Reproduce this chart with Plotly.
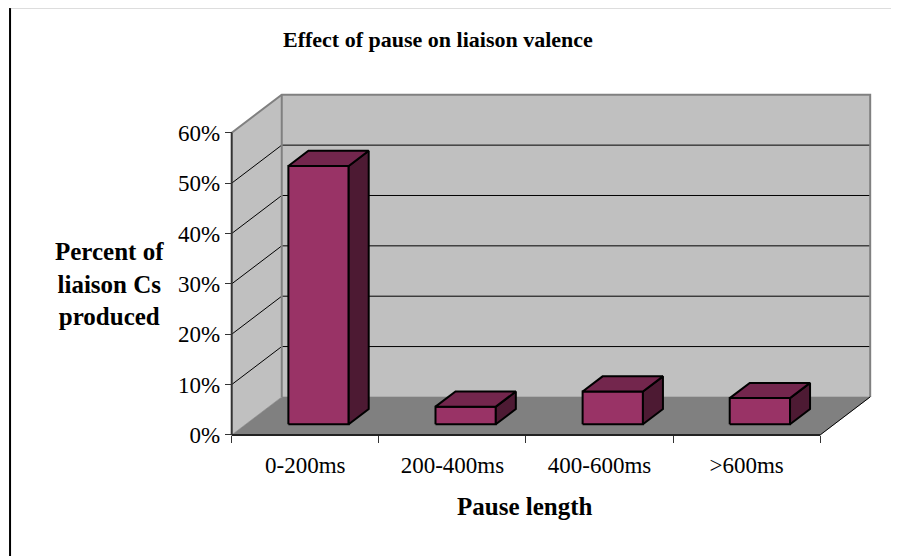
import plotly.graph_objects as go

# ---------------- data ----------------
categories = ["0-200ms", "200-400ms", "400-600ms", ">600ms"]
values = [51.3, 3.5, 6.5, 5.2]            # percent of liaison Cs produced
y_ticks = [0, 10, 20, 30, 40, 50, 60]
y_tick_labels = ["0%", "10%", "20%", "30%", "40%", "50%", "60%"]
title_text = "Effect of pause on liaison valence"
y_title = "Percent of<br>liaison Cs<br>produced"
x_title = "Pause length"

# ---------------- style / geometry ----------------
W, H = 899, 556
OFF = 8.0                    # page body margin of the generated html
FONT = "Liberation Serif"
X_RANGE = [-0.1, 4.4]
Y_RANGE = [-2.0, 68.5]
PX_PER_X = 147.0
PX_PER_Y = 5.0333
X0_PX, Y0_PX = 232.0 - OFF, 435.0 - OFF
DX = 50.0 / PX_PER_X        # depth offset in x units
DY = 38.0 / PX_PER_Y        # depth offset in y units
BAR_X0, BAR_X1 = 0.29, 0.70  # within category
BAR_D0, BAR_D1 = 0.28, 0.68  # depth fraction
YMAX = y_ticks[-1]
N = len(categories)

left = X0_PX + X_RANGE[0] * PX_PER_X
right = X0_PX + X_RANGE[1] * PX_PER_X
top = Y0_PX - Y_RANGE[1] * PX_PER_Y
bottom = Y0_PX - Y_RANGE[0] * PX_PER_Y
pw, ph = right - left, bottom - top


def px(xp):
    return (xp - OFF - left) / pw


def py(yp):
    return (bottom - (yp - OFF)) / ph


WALL = "#C0C0C0"
FLOOR = "#808080"
EDGE = "#808080"
FRONT = "#993366"
TOPC = "#73264D"
SIDE = "#4D1A33"

fig = go.Figure()


def poly(xs, ys, fill, line_color, lw):
    fig.add_trace(go.Scatter(
        x=list(xs) + [xs[0]], y=list(ys) + [ys[0]], mode="lines",
        fill="toself", fillcolor=fill,
        line=dict(color=line_color, width=lw),
        hoverinfo="skip", showlegend=False))


def seg(xs, ys, color, lw):
    fig.add_trace(go.Scatter(
        x=xs, y=ys, mode="lines", line=dict(color=color, width=lw),
        hoverinfo="skip", showlegend=False))


# side wall
poly([0, 0, DX, DX], [0, YMAX, YMAX + DY, DY], WALL, WALL, 0.5)
# back wall
poly([DX, DX, N + DX, N + DX], [DY, YMAX + DY, YMAX + DY, DY], WALL, WALL, 0.5)
# floor
poly([0, N, N + DX, DX], [0, 0, DY, DY], FLOOR, FLOOR, 0.5)

# gridlines
for v in y_ticks[1:-1]:
    seg([DX, N + DX], [v + DY, v + DY], "#000000", 1)
    seg([0, DX], [v, v + DY], "#000000", 1)

# wall edges
seg([0, DX, N + DX, N + DX], [YMAX, YMAX + DY, YMAX + DY, DY], EDGE, 2)
seg([DX, DX], [DY, YMAX + DY], EDGE, 2)
seg([N, N + DX], [0, DY], "#000000", 1)

# bars
for i, v in enumerate(values):
    xa = i + BAR_X0
    xb = i + BAR_X1
    fx0, fx1 = xa + BAR_D0 * DX, xb + BAR_D0 * DX
    bx0, bx1 = xa + BAR_D1 * DX, xb + BAR_D1 * DX
    fy0 = BAR_D0 * DY
    by0 = BAR_D1 * DY
    # front
    poly([fx0, fx1, fx1, fx0], [fy0, fy0, v + fy0, v + fy0], FRONT, "#000000", 2)
    # side
    poly([fx1, bx1, bx1, fx1], [fy0, by0, v + by0, v + fy0], SIDE, "#000000", 2)
    # top
    poly([fx0, fx1, bx1, bx0], [v + fy0, v + fy0, v + by0, v + by0], TOPC, "#000000", 2)

# front axis lines
seg([0, 0], [0, YMAX], "#333333", 2)
seg([0, N], [0, 0], "#222222", 2)

fig.update_layout(
    width=W, height=H, autosize=False,
    margin=dict(l=left, r=W - right, t=top, b=H - bottom, pad=0),
    paper_bgcolor="white", plot_bgcolor="white",
    showlegend=False,
    font=dict(family=FONT, color="#000000"),
    xaxis=dict(
        range=X_RANGE, showgrid=False, zeroline=False, showline=False,
        tickvals=[i + 0.5 for i in range(N)], ticktext=categories,
        ticks="outside", ticklen=9, tickcolor="rgba(0,0,0,0)",
        tickfont=dict(family=FONT, size=23, color="#000000"),
        minor=dict(tickvals=list(range(N + 1)), ticks="outside", ticklen=7,
                   tickcolor="#333333", tickwidth=1, showgrid=False),
        anchor="free", position=(bottom - Y0_PX) / ph, fixedrange=True,
    ),
    yaxis=dict(
        range=Y_RANGE, showgrid=False, zeroline=False, showline=False,
        tickvals=y_ticks, ticktext=y_tick_labels,
        ticks="outside", ticklen=7, tickcolor="#333333", tickwidth=1,
        tickfont=dict(family=FONT, size=23, color="#000000"),
        anchor="free", position=(X0_PX - left) / pw, fixedrange=True,
    ),
    annotations=[
        dict(text="<b>" + title_text + "</b>", xref="paper", yref="paper",
             x=px(438), y=py(40), xanchor="center", yanchor="middle",
             showarrow=False, font=dict(family=FONT, size=22, color="#000000")),
        dict(text="<b>" + y_title + "</b>", xref="paper", yref="paper",
             x=px(110), y=py(284), xanchor="center", yanchor="middle",
             showarrow=False, font=dict(family=FONT, size=25, color="#000000")),
        dict(text="<b>" + x_title + "</b>", xref="paper", yref="paper",
             x=px(525), y=py(507), xanchor="center", yanchor="middle",
             showarrow=False, font=dict(family=FONT, size=25, color="#000000")),
    ],
    shapes=[
        dict(type="line", xref="paper", yref="paper",
             x0=px(10.5), x1=px(10.5), y0=py(8), y1=py(580),
             line=dict(color="#000000", width=2)),
        dict(type="line", xref="paper", yref="paper",
             x0=px(10), x1=px(920), y0=py(7.5), y1=py(7.5),
             line=dict(color="#777777", width=2)),
    ],
)

fig.write_html("out.html")
